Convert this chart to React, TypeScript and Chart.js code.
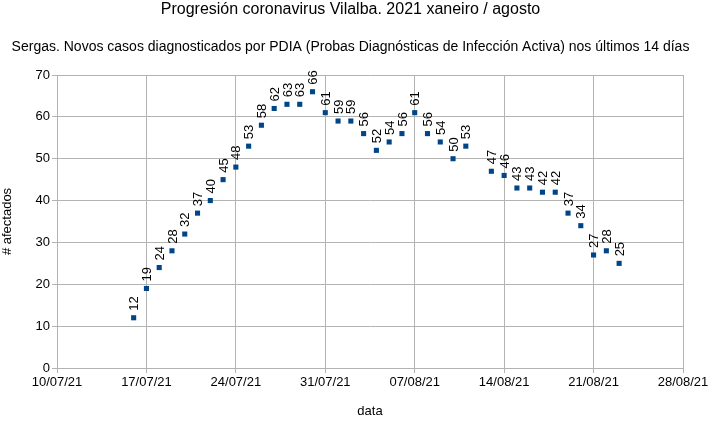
import React, { useEffect, useRef } from "react";
import { Chart, registerables } from "chart.js";

Chart.register(...registerables);

const TITLE = "Progresión coronavirus Vilalba. 2021 xaneiro / agosto";
const SUBTITLE =
  "Sergas. Novos casos diagnosticados por PDIA (Probas Diagnósticas de Infección Activa) nos últimos 14 días";
const X_TITLE = "data";
const Y_TITLE = "# afectados";

const START_DATE = "10/07/21";
const END_DATE = "28/08/21";

const dates = [
  "16/07/21", "17/07/21", "18/07/21", "19/07/21", "20/07/21", "21/07/21", "22/07/21",
  "23/07/21", "24/07/21", "25/07/21", "26/07/21", "27/07/21", "28/07/21", "29/07/21",
  "30/07/21", "31/07/21", "01/08/21", "02/08/21", "03/08/21", "04/08/21", "05/08/21",
  "06/08/21", "07/08/21", "08/08/21", "09/08/21", "10/08/21", "11/08/21",
  "13/08/21", "14/08/21", "15/08/21", "16/08/21", "17/08/21", "18/08/21", "19/08/21",
  "20/08/21", "21/08/21", "22/08/21", "23/08/21",
];

const cases = [
  12, 19, 24, 28, 32, 37, 40,
  45, 48, 53, 58, 62, 63, 63,
  66, 61, 59, 59, 56, 52, 54,
  56, 61, 56, 54, 50, 53,
  47, 46, 43, 43, 42, 42, 37,
  34, 27, 28, 25,
];

const DAY = 86400000;
function parseDate(s: string): number {
  const [d, m, y] = s.split("/").map(Number);
  return Date.UTC(2000 + y, m - 1, d);
}
const t0 = parseDate(START_DATE);
const dayIndex = (s: string) => Math.round((parseDate(s) - t0) / DAY);
const fmt = (n: number) => {
  const d = new Date(t0 + n * DAY);
  const dd = String(d.getUTCDate()).padStart(2, "0");
  const mm = String(d.getUTCMonth() + 1).padStart(2, "0");
  const yy = String(d.getUTCFullYear() % 100).padStart(2, "0");
  return `${dd}/${mm}/${yy}`;
};

const FONT = "'Liberation Sans', Arial, sans-serif";
const GRID = "#b3b3b3";
const BLUE = "#004586";

const labelPlugin = {
  id: "rotLabels",
  afterDatasetsDraw(chart: any) {
    const ctx = chart.ctx;
    const meta = chart.getDatasetMeta(0);
    ctx.save();
    ctx.font = `13px ${FONT}`;
    ctx.fillStyle = "#000000";
    ctx.textAlign = "left";
    ctx.textBaseline = "middle";
    meta.data.forEach((el: any, i: number) => {
      ctx.save();
      ctx.translate(el.x + 1, el.y - 7);
      ctx.rotate(-Math.PI / 2);
      ctx.fillText(String(cases[i]), 0, 0);
      ctx.restore();
    });
    ctx.restore();
  },
};

export default function App() {
  const ref = useRef<HTMLCanvasElement>(null);
  useEffect(() => {
    document.body.style.margin = "0";
    const points = dates.map((d, i) => ({ x: dayIndex(d), y: cases[i] }));
    const chart = new Chart(ref.current!, {
      type: "scatter",
      data: {
        datasets: [
          {
            data: points,
            pointStyle: "rect",
            pointRadius: 3.6,
            pointHoverRadius: 3.6,
            backgroundColor: BLUE,
            borderColor: BLUE,
            borderWidth: 0,
          },
        ],
      },
      options: {
        animation: false,
        responsive: false,
        devicePixelRatio: 1,
        layout: { padding: { left: 0, right: 15, top: 0, bottom: 0 } },
        plugins: {
          legend: { display: false },
          tooltip: { enabled: false },
          title: {
            display: true,
            text: TITLE,
            color: "#000000",
            font: { family: FONT, size: 16, weight: "normal" },
            padding: { top: 0, bottom: 19.4 },
          },
          subtitle: {
            display: true,
            text: SUBTITLE,
            color: "#000000",
            font: { family: FONT, size: 14, weight: "normal" },
            padding: { top: 0, bottom: 19.6 },
          },
        },
        scales: {
          x: {
            type: "linear",
            min: 0,
            max: dayIndex(END_DATE),
            afterFit: (s: any) => {
              s.height = 60;
            },
            ticks: {
              stepSize: 7,
              color: "#000000",
              font: { family: FONT, size: 13 },
              padding: 2,
              maxRotation: 0,
              callback: (v: any) => fmt(Number(v)),
            },
            grid: { color: GRID, tickLength: 5, lineWidth: 1 },
            border: { color: GRID },
            title: {
              display: true,
              text: X_TITLE,
              color: "#000000",
              font: { family: FONT, size: 13 },
              padding: { top: 0, bottom: 9 },
            },
          },
          y: {
            min: 0,
            max: 70,
            afterFit: (s: any) => {
              s.width = 57;
            },
            ticks: {
              stepSize: 10,
              color: "#000000",
              font: { family: FONT, size: 13 },
              padding: 2,
            },
            grid: { color: GRID, tickLength: 5, lineWidth: 1 },
            border: { color: GRID },
            title: {
              display: true,
              text: Y_TITLE,
              color: "#000000",
              font: { family: FONT, size: 13 },
              padding: { top: 0, bottom: 0 },
            },
          },
          yRight: {
            position: "right",
            min: 0,
            max: 70,
            afterFit: (s: any) => {
              s.width = 18;
            },
            ticks: { display: false },
            grid: { display: false },
            border: { display: false },
          },
        },
      },
      plugins: [labelPlugin],
    });
    return () => chart.destroy();
  }, []);
  return (
    <div style={{ position: "absolute", left: 0, top: 0, width: 716, height: 428, background: "#fff" }}>
      <canvas ref={ref} width={716} height={428} />
    </div>
  );
}
